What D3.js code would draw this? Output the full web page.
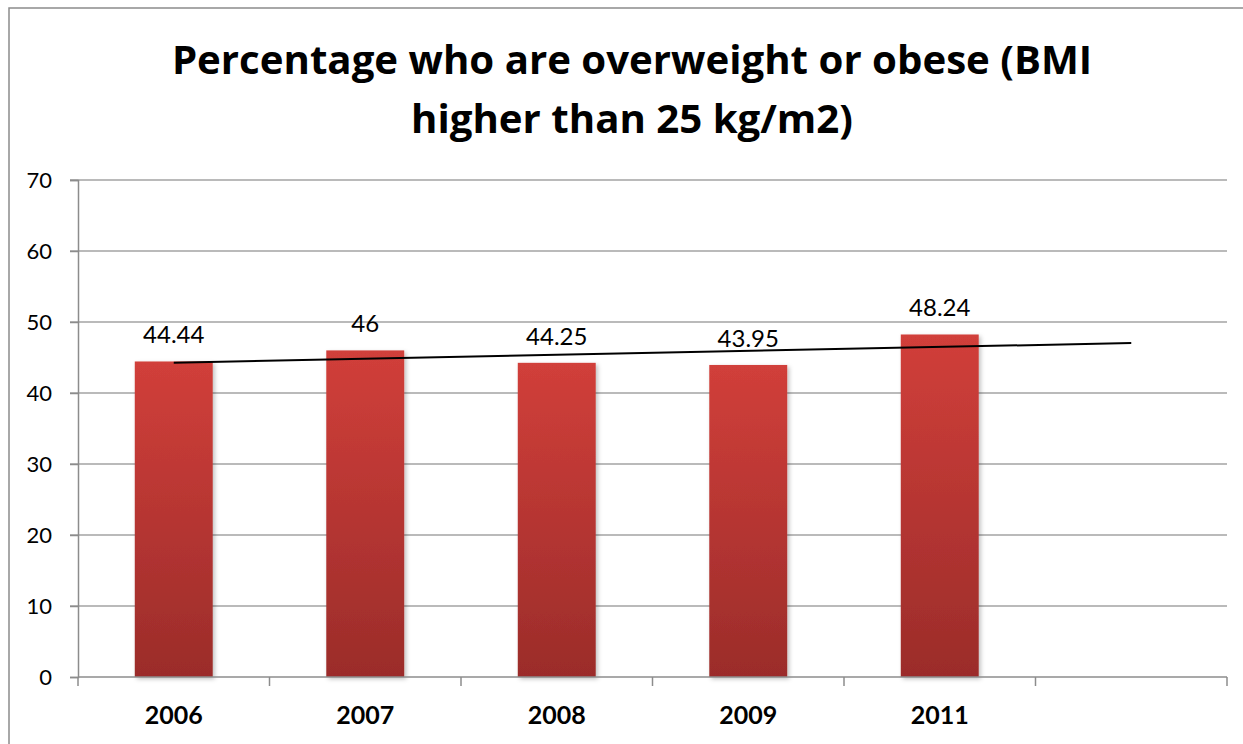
<!DOCTYPE html>
<html>
<head>
<meta charset="UTF-8">
<script src="https://d3js.org/d3.v7.min.js"></script>
<style>
  body { margin: 0; background: #fff; }
  svg { display: block; }
</style>
</head>
<body>
<svg width="1243" height="744"></svg>
<script>
const titleLines = ["Percentage who are overweight or obese (BMI", "higher than 25 kg/m2)"];
const categories = ["2006", "2007", "2008", "2009", "2011", ""];
const values = [44.44, 46, 44.25, 43.95, 48.24];
const valueLabels = ["44.44", "46", "44.25", "43.95", "48.24"];
const yTicks = [0, 10, 20, 30, 40, 50, 60, 70];

const svg = d3.select("svg");
const margin = { left: 78, right: 1227, top: 180, bottom: 677 };
const font = "Lato, 'Open Sans', sans-serif";

const x = d3.scaleBand().domain(categories.map((c, i) => i))
    .range([margin.left, margin.right])
    .paddingInner(0.593).paddingOuter(0.2965);
const y = d3.scaleLinear().domain([0, 70]).range([margin.bottom, margin.top]);

// outer chart frame
svg.append("rect")
    .attr("x", 9).attr("y", 8).attr("width", 1260).attr("height", 760)
    .attr("fill", "none").attr("stroke", "#8c8c8c").attr("stroke-width", 1.5);

// gradient + shadow
const defs = svg.append("defs");
const grad = defs.append("linearGradient").attr("id", "barGrad")
    .attr("x1", 0).attr("y1", 0).attr("x2", 0).attr("y2", 1);
grad.append("stop").attr("offset", "0%").attr("stop-color", "#d13f3a");
grad.append("stop").attr("offset", "100%").attr("stop-color", "#9b2c2a");
const flt = defs.append("filter").attr("id", "shadow")
    .attr("x", "-10%").attr("y", "-10%").attr("width", "130%").attr("height", "120%");
flt.append("feDropShadow").attr("dx", 2).attr("dy", 2).attr("stdDeviation", 2)
    .attr("flood-color", "#000").attr("flood-opacity", 0.25);

// title (size fitted so line 1 spans ~921px like the original)
const title = svg.append("text")
    .attr("x", 632).attr("y", 74)
    .attr("text-anchor", "middle")
    .style("font-family", "'Open Sans', sans-serif")
    .style("font-weight", "bold").style("font-size", "38px");
title.selectAll("tspan").data(titleLines).enter().append("tspan")
    .attr("x", 632).attr("dy", (d, i) => i === 0 ? 0 : 59)
    .text(d => d);
const w1 = title.select("tspan").node().getComputedTextLength();
title.style("font-size", (38 * 921 / w1).toFixed(1) + "px");

// gridlines
svg.append("g").selectAll("line").data(yTicks.filter(d => d > 0)).enter().append("line")
    .attr("x1", margin.left - 8).attr("x2", margin.right)
    .attr("y1", d => y(d)).attr("y2", d => y(d))
    .attr("stroke", "#a3a3a3").attr("stroke-width", 1.5);

// y axis
const yAxis = svg.append("g").attr("transform", `translate(${margin.left},0)`)
    .call(d3.axisLeft(y).tickValues(yTicks).tickSize(8).tickPadding(18));
yAxis.select(".domain").attr("stroke", "#8c8c8c").attr("stroke-width", 1.5);
yAxis.selectAll(".tick line").attr("stroke", "#8c8c8c").attr("stroke-width", 1.5);
yAxis.selectAll("text")
    .style("font-family", font)
    .style("font-size", "22px").attr("fill", "#000");

// bars
svg.append("g").selectAll("rect").data(values).enter().append("rect")
    .attr("x", (d, i) => x(i))
    .attr("width", x.bandwidth())
    .attr("y", d => y(d))
    .attr("height", d => y(0) - y(d))
    .attr("fill", "url(#barGrad)")
    .attr("filter", "url(#shadow)");

// x axis line + category separators
const catEdges = d3.range(categories.length + 1)
    .map(i => margin.left + i * x.step());
svg.append("line")
    .attr("x1", margin.left).attr("x2", margin.right)
    .attr("y1", y(0)).attr("y2", y(0))
    .attr("stroke", "#8c8c8c").attr("stroke-width", 1.5);
svg.append("g").selectAll("line").data(catEdges).enter().append("line")
    .attr("x1", d => d).attr("x2", d => d)
    .attr("y1", y(0)).attr("y2", y(0) + 9)
    .attr("stroke", "#8c8c8c").attr("stroke-width", 1.5);

// category labels
svg.append("g").selectAll("text").data(categories).enter().append("text")
    .attr("x", (d, i) => x(i) + x.bandwidth() / 2)
    .attr("y", 724)
    .attr("text-anchor", "middle")
    .style("font-family", font)
    .style("font-weight", "bold").style("font-size", "25px")
    .text(d => d);

// value labels
svg.append("g").selectAll("text").data(values).enter().append("text")
    .attr("x", (d, i) => x(i) + x.bandwidth() / 2)
    .attr("y", d => y(d) - 18)
    .attr("text-anchor", "middle")
    .style("font-family", font)
    .style("font-size", "24px")
    .text((d, i) => valueLabels[i]);

// linear trendline (least squares over category index), extended one period forward
const xs = values.map((d, i) => i);
const mx = d3.mean(xs), my = d3.mean(values);
const slope = d3.sum(xs, (xi, i) => (xi - mx) * (values[i] - my)) / d3.sum(xs, xi => (xi - mx) ** 2);
const icpt = my - slope * mx;
const trendIdx = [0, categories.length - 1];
svg.append("line")
    .attr("x1", x(trendIdx[0]) + x.bandwidth() / 2)
    .attr("y1", y(icpt + slope * trendIdx[0]))
    .attr("x2", x(trendIdx[1]) + x.bandwidth() / 2)
    .attr("y2", y(icpt + slope * trendIdx[1]))
    .attr("stroke", "#000").attr("stroke-width", 2);
</script>
</body>
</html>
